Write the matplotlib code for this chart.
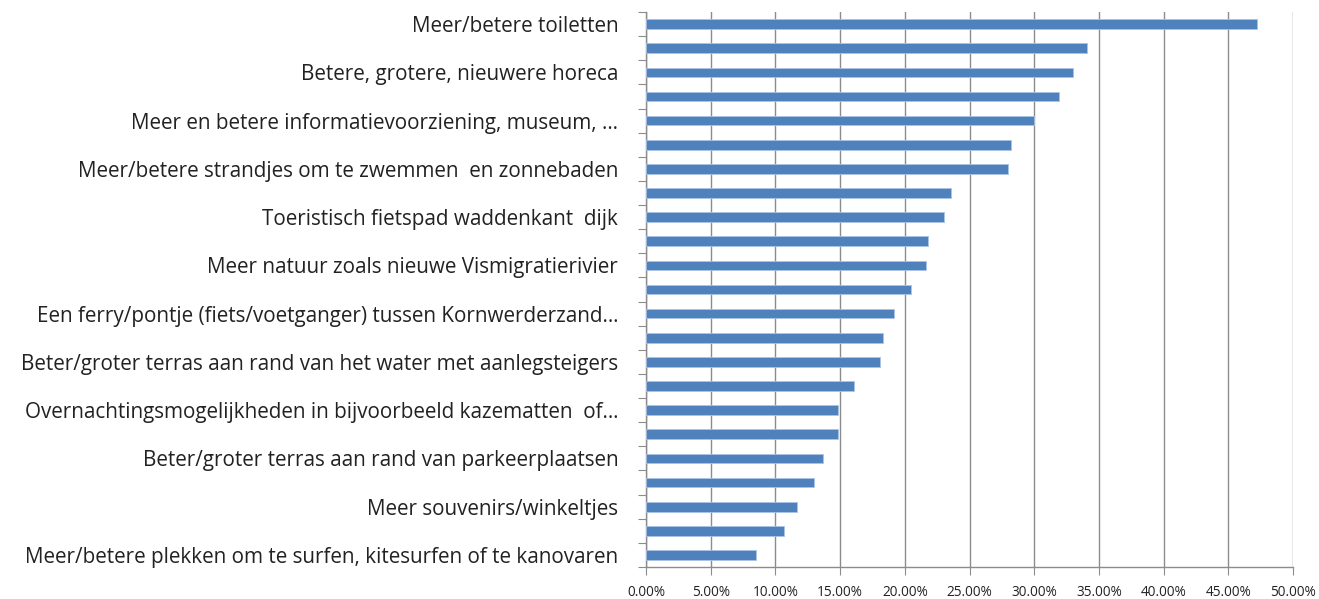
import matplotlib.pyplot as plt
import numpy as np

# survey answers, top to bottom; only every other category carries a label
labels = [
    "Meer/betere toiletten", "",
    "Betere, grotere, nieuwere horeca", "",
    "Meer en betere informatievoorziening, museum, …", "",
    "Meer/betere strandjes om te zwemmen  en zonnebaden", "",
    "Toeristisch fietspad waddenkant  dijk", "",
    "Meer natuur zoals nieuwe Vismigratierivier", "",
    "Een ferry/pontje (fiets/voetganger) tussen Kornwerderzand…", "",
    "Beter/groter terras aan rand van het water met aanlegsteigers", "",
    "Overnachtingsmogelijkheden in bijvoorbeeld kazematten  of…", "",
    "Beter/groter terras aan rand van parkeerplaatsen", "",
    "Meer souvenirs/winkeltjes", "",
    "Meer/betere plekken om te surfen, kitesurfen of te kanovaren",
]
values = [47.2, 34.1, 33.0, 31.9, 30.0, 28.2, 28.0, 23.6, 23.0, 21.8, 21.6,
          20.5, 19.2, 18.3, 18.1, 16.1, 14.8, 14.8, 13.7, 13.0, 11.7, 10.7, 8.5]
xticks = np.arange(0, 50.1, 5)

plt.rcParams['font.family'] = ['Open Sans', 'DejaVu Sans']

fig = plt.figure(figsize=(13.19, 5.99), dpi=100)
ax = fig.add_axes([646 / 1319, 1 - 567 / 599, 647 / 1319, 555 / 599])

n = len(values)
y = np.arange(n)
ax.barh(y, values, height=0.4, color='#4f81bd', edgecolor='#a9c4e6',
        linewidth=0.6, zorder=3)

ax.set_xlim(0, 50)
ax.set_ylim(n - 0.5, -0.5)

ax.set_xticks(xticks)
ax.set_xticklabels([f"{v:.2f}%" for v in xticks], fontsize=9.8, color='#222222')
ax.xaxis.grid(True, color='#8c8c8c', linewidth=1.0, zorder=0)

# tick marks on category boundaries, labels on category centres
ax.set_yticks(np.arange(n + 1) - 0.5)
ax.set_yticklabels([])
ax.set_yticks(y, minor=True)
ax.set_yticklabels(labels, minor=True, fontsize=14.9, color='#222222')
ax.tick_params(axis='y', which='minor', length=0, pad=20)
ax.tick_params(axis='y', which='major', length=6, color='#8c8c8c')
ax.tick_params(axis='x', length=6, color='#8c8c8c', pad=7)

for s in ['top', 'right']:
    ax.spines[s].set_visible(False)
for s in ['left', 'bottom']:
    ax.spines[s].set_color('#8c8c8c')
    ax.spines[s].set_linewidth(1.0)

fig.savefig('out.png', dpi=100)
